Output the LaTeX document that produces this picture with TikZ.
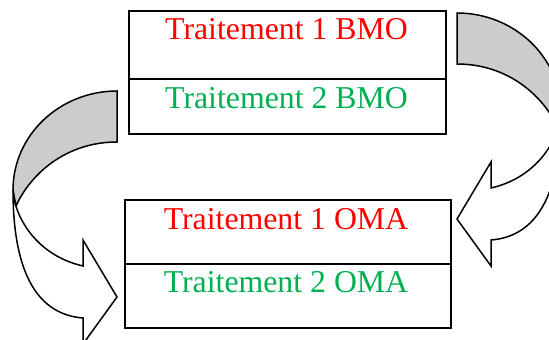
\documentclass[tikz,border=0pt]{standalone}
\usepackage{fontspec}
\setmainfont{Liberation Serif}
\definecolor{bmored}{RGB}{255,0,0}
\definecolor{omagreen}{RGB}{0,176,80}
\tikzset{
  cell/.style={draw, line width=1.7pt, rectangle, inner sep=0pt, anchor=north west},
  redtext/.style={text=bmored, anchor=base, inner sep=0pt, font=\fontsize{31.8}{36}\selectfont},
  greentext/.style={text=omagreen, anchor=base, inner sep=0pt, font=\fontsize{31.8}{36}\selectfont},
  bendarrow/.pic={
    \draw[line width=1.5pt, fill=gray!40]
      (0,0) .. controls (-57,0) and (-104,44) .. (-104,99) -- (-101,115)
      .. controls (-87,84) and (-52,51) .. (0,51) -- cycle;
    \draw[line width=1.5pt, fill=white]
      (-104,99) .. controls (-104,194) and (-72,224) .. (-34,227) -- (-34,253)
      -- (0,206) -- (-34,149) -- (-34,175)
      .. controls (-82,164) and (-103,124) .. (-104,99) -- cycle;
  }
}
\begin{document}
\begin{tikzpicture}[x=1pt, y=-1pt]
  \useasboundingbox (0,0) rectangle (549,340);
  \clip (0,0) rectangle (549,340);

  \pic at (117,91) {bendarrow};
  \pic[xscale=-1] at (457,13) {bendarrow};

  \node[cell, minimum width=317pt, minimum height=68pt] (bmo1) at (128,10) {};
  \node[cell, minimum width=317pt, minimum height=55pt] (bmo2) at (128,78) {};
  \node[cell, minimum width=326pt, minimum height=64pt] (oma1) at (124,199) {};
  \node[cell, minimum width=326pt, minimum height=64pt] (oma2) at (124,263) {};

  \node[redtext] (tbmo1) at (286.5,39) {Traitement 1 BMO};
  \node[greentext] (tbmo2) at (286.5,108) {Traitement 2 BMO};
  \node[redtext] (toma1) at (286,229) {Traitement 1 OMA};
  \node[greentext] (toma2) at (286,292) {Traitement 2 OMA};
\end{tikzpicture}
\end{document}
